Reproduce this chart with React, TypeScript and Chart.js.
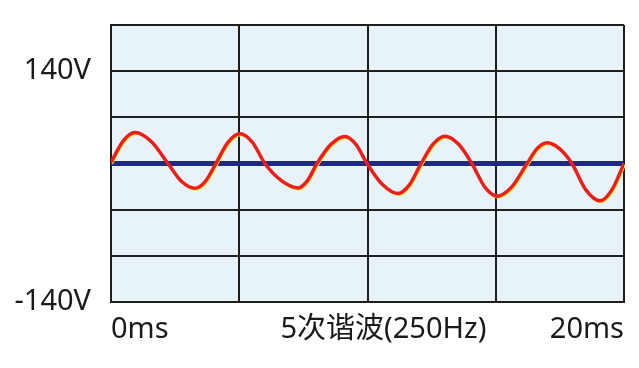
import React, { useEffect, useRef } from "react";
import { Chart, registerables } from "chart.js";

Chart.register(...registerables);

// Harmonic waveform: time (ms) and voltage (V)
const waveTimes = [
  0, 0.47, 0.94, 1.58, 2.22, 2.745, 3.27, 3.68, 4.09, 4.56, 5.03, 5.515, 6.0, 6.645, 7.29, 7.66, 8.03,
  8.575, 9.12, 9.55, 9.98, 10.585, 11.19, 11.64, 12.09, 12.555, 13.02, 13.545, 14.07, 14.56, 15.05,
  15.635, 16.22, 16.61, 17.0, 17.485, 17.97, 18.515, 19.06, 19.53, 20,
];
const waveVolts = [
  1.5, 34, 47, 33, 0, -27, -37.5, -27, 0, 32, 45, 32, 0, -26, -37, -26, 0,
  29, 41, 29, 0, -32, -45.5, -32, 0, 29.5, 41.5, 29.5, 0, -35, -49.5,
  -35, 0, 22.5, 31.5, 22.5, 0, -40, -56.5, -40, 0,
];

// Zero reference line
const baseTimes = [0, 20];
const baseVolts = [0, 0];

// Axis labels
const xLabelPositions = [0, 10.62, 20];
const xLabels = ["0ms", "5次谐波(250Hz)", "20ms"];
const yLabelValues = [140, -210];
const yLabels = ["140V", "-140V"];

const FONT = "'Noto Sans', 'Noto Sans CJK SC', sans-serif";
const GRID = "#1e1e1e";

export default function App() {
  const ref = useRef<HTMLCanvasElement | null>(null);

  useEffect(() => {
    if (!ref.current) return;
    const wave = waveTimes.map((t, i) => ({ x: t, y: waveVolts[i] }));
    const base = baseTimes.map((t, i) => ({ x: t, y: baseVolts[i] }));

    const bgPlugin = {
      id: "bg",
      beforeDraw(chart: any) {
        const { ctx, chartArea } = chart;
        ctx.save();
        ctx.fillStyle = "#e7f3f8";
        ctx.fillRect(chartArea.left, chartArea.top, chartArea.right - chartArea.left, chartArea.bottom - chartArea.top);
        ctx.restore();
      },
    };
    const shadowPlugin = {
      id: "shadow",
      beforeDatasetDraw(chart: any, args: any) {
        if (args.index === 1) {
          chart.ctx.save();
          chart.ctx.translate(1, 1.5);
        }
      },
      afterDatasetDraw(chart: any, args: any) {
        if (args.index === 1) chart.ctx.restore();
      },
    };

    const chart = new Chart(ref.current, {
      type: "line",
      data: {
        datasets: [
          {
            data: wave,
            borderColor: "#ea1f1c",
            borderWidth: 3.5,
            pointRadius: 0,
            cubicInterpolationMode: "monotone",
            fill: false,
          },
          {
            data: wave,
            borderColor: "#f2e41c",
            borderWidth: 2,
            pointRadius: 0,
            cubicInterpolationMode: "monotone",
            fill: false,
          },
          {
            data: base,
            borderColor: "#1f2b7c",
            borderWidth: 5,
            pointRadius: 0,
            fill: false,
          },
        ],
      },
      options: {
        animation: false,
        responsive: false,
        events: [],
        layout: { padding: { top: 25, right: 15, left: 0, bottom: 0 } },
        plugins: { legend: { display: false }, tooltip: { enabled: false } },
        scales: {
          x: {
            type: "linear",
            position: "bottom",
            min: 0,
            max: 20,
            ticks: { stepSize: 5, display: false },
            grid: { color: GRID, lineWidth: 2, drawTicks: false },
            border: { color: GRID, width: 2 },
            afterFit(scale: any) {
              scale.height = 0;
              scale.paddingLeft = 0;
              scale.paddingRight = 0;
            },
          },
          xl: {
            type: "linear",
            position: "bottom",
            min: 0,
            max: 20,
            grid: { display: false, drawTicks: false },
            border: { display: false },
            afterBuildTicks(scale: any) {
              scale.ticks = xLabelPositions.map((v) => ({ value: v }));
            },
            ticks: {
              autoSkip: false,
              maxRotation: 0,
              align: "inner",
              padding: 10,
              color: "#1a1a1a",
              font: { family: FONT, size: 29 },
              callback: (_v: any, i: number) => xLabels[i],
            },
            afterFit(scale: any) {
              scale.height = 66;
              scale.paddingLeft = 0;
              scale.paddingRight = 0;
            },
          },
          y: {
            type: "linear",
            min: -210,
            max: 210,
            ticks: {
              stepSize: 70,
              autoSkip: false,
              padding: 20,
              color: "#1a1a1a",
              font: { family: FONT, size: 29 },
              callback: (v: any) => {
                const k = yLabelValues.indexOf(Number(v));
                return k >= 0 ? yLabels[k] : "";
              },
            },
            grid: { color: GRID, lineWidth: 2, drawTicks: false },
            border: { color: GRID, width: 2 },
            afterFit(scale: any) {
              scale.width = 111;
              scale.paddingTop = 0;
              scale.paddingBottom = 0;
            },
          },
        },
      },
      plugins: [bgPlugin, shadowPlugin],
    });
    return () => chart.destroy();
  }, []);

  return (
    <div style={{ position: "absolute", left: 0, top: 0, width: 639, height: 368, background: "#fff" }}>
      <canvas ref={ref} width={639} height={368} />
    </div>
  );
}
